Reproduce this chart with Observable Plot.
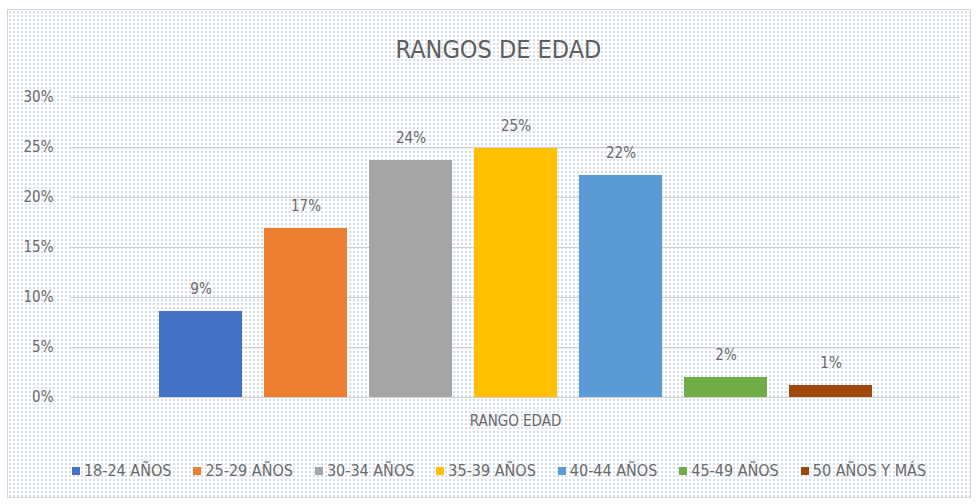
<!DOCTYPE html>
<html>
<head>
<meta charset="utf-8">
<script src="https://cdn.jsdelivr.net/npm/d3@7"></script>
<script src="https://cdn.jsdelivr.net/npm/@observablehq/plot@0.6"></script>
<style>
  body { margin: 0; width: 977px; height: 504px; background: #fff; position: relative; overflow: hidden;
         font-family: "Liberation Sans Narrow", "DejaVu Sans Condensed", "Open Sans", sans-serif; }
  #frame { position: absolute; left: 7px; top: 9px; width: 962px; height: 487px; border: 1px solid #d6d6d6;
           background-color: #fcfdfe;
           background-image: radial-gradient(circle, #d8dce4 0.7px, transparent 1.2px);
           background-size: 4px 4px; }
  #title { position: absolute; top: 35px; left: 10px; width: 977px; text-align: center; font-size: 25px; color: #5f5f5f; line-height: 30px; }
  #chart { position: absolute; left: 0; top: 77px; }
  #legend { position: absolute; top: 461px; left: 21px; width: 956px; display: flex; justify-content: center; gap: 22px;
            font-size: 16px; color: #6a6a6a; line-height: 20px; }
  .item { display: flex; align-items: center; gap: 4px; }
  .sw { width: 8px; height: 8px; display: inline-block; }
</style>
</head>
<body>
<div id="frame"></div>
<div id="title"></div>
<div id="chart"></div>
<div id="legend"></div>
<script>
const titleText = "RANGOS DE EDAD";
const xLabel = "RANGO EDAD";
const categories = ["18-24 AÑOS", "25-29 AÑOS", "30-34 AÑOS", "35-39 AÑOS", "40-44 AÑOS", "45-49 AÑOS", "50 AÑOS Y MÁS"];
const values = [0.086, 0.169, 0.237, 0.249, 0.222, 0.020, 0.012];
const colors = ["#4472C4", "#ED7D31", "#A5A5A5", "#FFC000", "#5B9BD5", "#70AD47", "#9E480E"];
const yTicks = [0, 0.05, 0.10, 0.15, 0.20, 0.25, 0.30];

const data = categories.map((c, i) => ({category: c, value: values[i]}));
const pct = d3.format(".0%");

document.getElementById("title").textContent = titleText;

const chart = Plot.plot({
  width: 977,
  height: 360,
  marginTop: 20,
  marginBottom: 40,
  marginLeft: 70,
  marginRight: 17,
  style: {background: "transparent", fontFamily: '"Liberation Sans Narrow", "DejaVu Sans Condensed", sans-serif', fontSize: "15px", color: "#6a6a6a"},
  x: {domain: categories, paddingInner: 0.213, paddingOuter: 0.825, axis: null},
  y: {domain: [0, 0.30], ticks: yTicks, tickFormat: pct, label: null},
  color: {domain: categories, range: colors},
  marks: [
    Plot.gridY(yTicks, {stroke: "#d0d0d0", strokeOpacity: 1, strokeWidth: 1.2}),
    Plot.axisY(yTicks, {tickSize: 0, tickPadding: 17, tickFormat: pct, fill: "#6a6a6a", fontSize: 15, label: null}),
    Plot.barY(data, {x: "category", y: "value", fill: "category"}),
    Plot.text(data, {x: "category", y: "value", text: d => pct(d.value), dy: -22, fill: "#6a6a6a", fontSize: 15}),
    Plot.text([xLabel], {frameAnchor: "bottom", dy: 28, text: d => d, fill: "#6a6a6a", fontSize: 15})
  ]
});
document.getElementById("chart").appendChild(chart);

const legend = document.getElementById("legend");
categories.forEach((c, i) => {
  const it = document.createElement("div");
  it.className = "item";
  const sw = document.createElement("span");
  sw.className = "sw";
  sw.style.background = colors[i];
  const t = document.createElement("span");
  t.textContent = c;
  it.appendChild(sw);
  it.appendChild(t);
  legend.appendChild(it);
});
</script>
</body>
</html>
